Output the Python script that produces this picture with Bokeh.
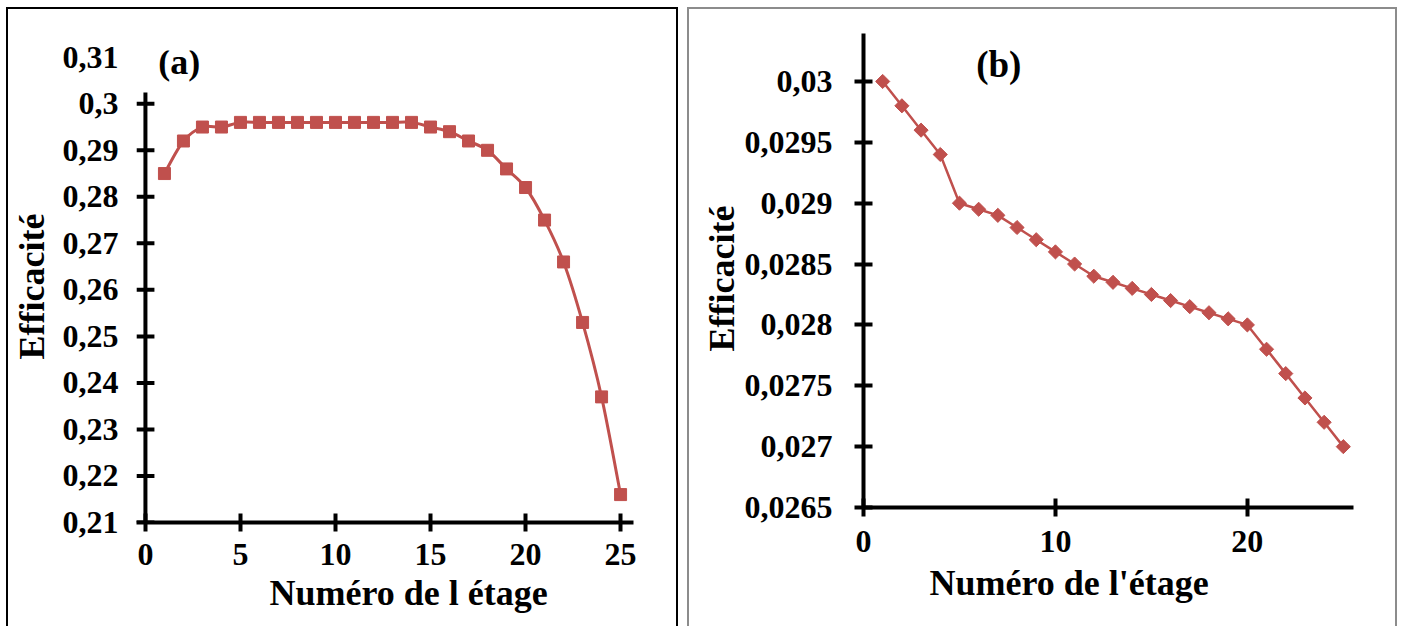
import numpy as np
from bokeh.plotting import figure
from bokeh.models import ColumnDataSource, FixedTicker, CustomJSTickFormatter, Label, Title, Range1d
from bokeh.layouts import row, column
from bokeh.embed import file_html
from bokeh.resources import INLINE

# ---------------- data ----------------
stages = list(range(1, 26))
eff_a = [0.285, 0.292, 0.295, 0.295, 0.296, 0.296, 0.296, 0.296, 0.296, 0.296,
         0.296, 0.296, 0.296, 0.296, 0.295, 0.294, 0.292, 0.290, 0.286, 0.282,
         0.275, 0.266, 0.253, 0.237, 0.216]
eff_b = [0.0300, 0.0298, 0.0296, 0.0294, 0.0290, 0.02895, 0.0289, 0.0288, 0.0287, 0.0286,
         0.0285, 0.0284, 0.02835, 0.0283, 0.02825, 0.0282, 0.02815, 0.0281, 0.02805, 0.0280,
         0.0278, 0.0276, 0.0274, 0.0272, 0.0270]
xticks_a = [0, 5, 10, 15, 20, 25]
yticks_a = [0.21, 0.22, 0.23, 0.24, 0.25, 0.26, 0.27, 0.28, 0.29, 0.30]
ytick_a_top = 0.31
yaxis_a_top = 0.3024
xticks_b = [0, 10, 20]
yticks_b = [0.0265, 0.027, 0.0275, 0.028, 0.0285, 0.029, 0.0295, 0.03]

x_label_a = "Numéro de l étage"
x_label_b = "Numéro de l'étage"
y_label = "Efficacité"

RED = "#C0504D"
FONT = "Liberation Serif"
TICK_SIZE = "32px"
XLABEL_SIZE = "36px"
YLABEL_SIZE = "36px"

fmt_code = "return String(parseFloat(tick.toFixed(5))).replace('.', ',');"


def style(p):
    p.xgrid.visible = False
    p.ygrid.visible = False
    p.outline_line_color = None
    p.background_fill_color = "white"
    p.border_fill_color = "white"
    for ax in list(p.xaxis) + list(p.yaxis):
        ax.axis_line_width = 4
        ax.axis_line_color = "black"
        ax.major_tick_line_width = 4
        ax.major_tick_line_color = "black"
        ax.major_tick_in = 9
        ax.major_tick_out = 9
        ax.minor_tick_line_color = None
        ax.major_label_text_font = FONT
        ax.major_label_text_font_style = "bold"
        ax.major_label_text_font_size = TICK_SIZE
        ax.major_label_text_color = "black"
        ax.axis_label_text_font = FONT
        ax.axis_label_text_font_style = "bold"
        ax.axis_label_text_font_size = YLABEL_SIZE
        ax.axis_label_text_color = "black"
        ax.formatter = CustomJSTickFormatter(code=fmt_code)


# ---------------- panel (a) ----------------
pa = figure(width=672, height=619, output_backend="svg", toolbar_location=None,
            x_range=Range1d(-0.47, 25.68), y_range=Range1d(0.21, 0.31145),
            min_border_left=126, min_border_right=47, min_border_top=41, min_border_bottom=106)
style(pa)
pa.styles = {"border-top": "2px solid black", "border-left": "2px solid black",
             "border-right": "2px solid black"}
pa.xaxis.ticker = FixedTicker(ticks=xticks_a)
pa.yaxis.ticker = FixedTicker(ticks=yticks_a + [ytick_a_top])
pa.xaxis.major_label_standoff = 12
# y axis of (a): labels from Bokeh, line and ticks drawn at x = 0
pa.yaxis.axis_line_color = None
pa.yaxis.major_tick_line_color = None
pa.yaxis.major_tick_out = 0
pa.yaxis.major_tick_in = 0
pa.yaxis.major_label_standoff = 18
pa.yaxis.axis_label = y_label
pa.yaxis.axis_label_standoff = 8

pa.segment(x0=[0], y0=[yticks_a[0]], x1=[0], y1=[yaxis_a_top], line_color="black", line_width=4)
pa.scatter([0] * len(yticks_a), yticks_a, marker="dash", size=18, line_color="black", line_width=4)

# smoothed line (Excel-like) via bezier segments through the data points
xa = np.array(stages, dtype=float)
ya = np.array(eff_a, dtype=float)
xp = np.concatenate([[xa[0]], xa, [xa[-1]]])
yp = np.concatenate([[ya[0]], ya, [ya[-1]]])
n = len(xa)
bez = ColumnDataSource(dict(
    x0=xa[:-1], y0=ya[:-1], x1=xa[1:], y1=ya[1:],
    cx0=xp[1:n] + (xp[2:n + 1] - xp[0:n - 1]) / 6.0,
    cy0=yp[1:n] + (yp[2:n + 1] - yp[0:n - 1]) / 6.0,
    cx1=xp[2:n + 1] - (xp[3:n + 2] - xp[1:n]) / 6.0,
    cy1=yp[2:n + 1] - (yp[3:n + 2] - yp[1:n]) / 6.0,
))
pa.bezier(x0="x0", y0="y0", x1="x1", y1="y1", cx0="cx0", cy0="cy0", cx1="cx1", cy1="cy1",
          source=bez, line_color=RED, line_width=3)
pa.scatter(stages, eff_a, marker="square", size=12, fill_color=RED, line_color=RED)

pa.add_layout(Title(text=x_label_a, align="left", offset=133, text_font=FONT,
                    text_font_style="bold", text_font_size=XLABEL_SIZE, text_color="black",
                    standoff=6), "below")
pa.add_layout(Label(x=1.78, y=0.3089, text="(a)", text_align="center", text_baseline="middle",
                    text_font=FONT, text_font_style="bold", text_font_size="36px",
                    text_color="black"))

# ---------------- panel (b) ----------------
pb = figure(width=710, height=619, output_backend="svg", toolbar_location=None,
            x_range=Range1d(0, 25.53), y_range=Range1d(0.0265, 0.030394),
            min_border_left=174, min_border_right=46, min_border_top=24, min_border_bottom=121)
style(pb)
pb.styles = {"border-top": "2px solid #8c8c8c", "border-left": "2px solid #8c8c8c",
             "border-right": "2px solid #8c8c8c"}
pb.xaxis.ticker = FixedTicker(ticks=xticks_b)
pb.yaxis.ticker = FixedTicker(ticks=yticks_b)
pb.xaxis.major_label_standoff = 14
pb.yaxis.major_label_standoff = 22

pb.line(stages, eff_b, line_color=RED, line_width=2.5)
pb.scatter(stages, eff_b, marker="square", angle=np.pi / 4, size=10, fill_color=RED, line_color=RED)

pb.add_layout(Title(text=y_label, align="left", offset=156, text_font=FONT,
                    text_font_style="bold", text_font_size=YLABEL_SIZE, text_color="black",
                    standoff=0), "left")
pb.add_layout(Title(text=x_label_b, align="left", offset=66, text_font=FONT,
                    text_font_style="bold", text_font_size=XLABEL_SIZE, text_color="black",
                    standoff=12), "below")
pb.add_layout(Label(x=7.05, y=0.030139, text="(b)", text_align="center", text_baseline="middle",
                    text_font=FONT, text_font_style="bold", text_font_size="37px",
                    text_color="black"))

layout = row(column(pa), column(pb), spacing=9, margin=(7, 0, 0, 6))
open("out.html", "w").write(file_html(layout, INLINE))
